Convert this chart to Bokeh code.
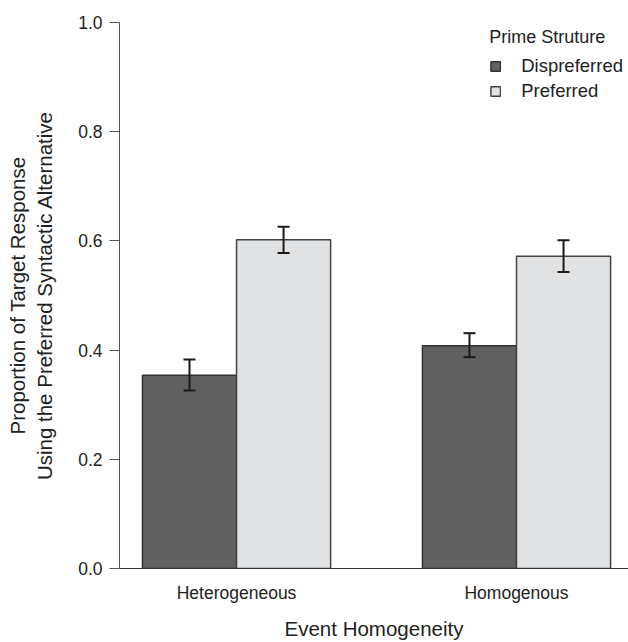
from bokeh.plotting import figure
from bokeh.models import Range1d, FixedTicker, ColumnDataSource, Whisker, TeeHead
from bokeh.embed import file_html
from bokeh.resources import INLINE

# ---- data ----
conditions = ["Heterogeneous", "Homogenous"]
series_names = ["Dispreferred", "Preferred"]
dispreferred = [0.354, 0.408]
dispreferred_lower = [0.326, 0.387]
dispreferred_upper = [0.383, 0.431]
preferred = [0.602, 0.572]
preferred_lower = [0.578, 0.543]
preferred_upper = [0.626, 0.601]
y_ticks = [0.0, 0.2, 0.4, 0.6, 0.8, 1.0]

FONT = "Liberation Sans"
TEXT = "#222222"
AXIS = "#555555"

centers = [1, 2]
bw = 0.336
off = bw / 2

p = figure(width=628, height=642, output_backend="svg", toolbar_location=None,
           x_range=Range1d(0.582, 2.4), y_range=Range1d(0, 1.0),
           min_border_left=119, min_border_right=0, min_border_top=22,
           min_border_bottom=73)
p.outline_line_color = None
p.grid.visible = False
p.background_fill_color = "white"

src_d = ColumnDataSource(dict(x=[c - off for c in centers], top=dispreferred,
                              lower=dispreferred_lower, upper=dispreferred_upper))
src_p = ColumnDataSource(dict(x=[c + off for c in centers], top=preferred,
                              lower=preferred_lower, upper=preferred_upper))

p.vbar(x="x", top="top", width=bw, bottom=0, source=src_d, fill_color="#616161",
       line_color="#333333", line_width=1.5, legend_label=series_names[0])
p.vbar(x="x", top="top", width=bw, bottom=0, source=src_p, fill_color="#e1e2e4",
       line_color="#444444", line_width=1.5, legend_label=series_names[1])

for src in (src_d, src_p):
    w = Whisker(source=src, base="x", upper="upper", lower="lower",
                line_color="#1a1a1a", line_width=2, level="overlay",
                upper_head=TeeHead(size=12, line_color="#1a1a1a", line_width=2),
                lower_head=TeeHead(size=12, line_color="#1a1a1a", line_width=2))
    p.add_layout(w)

# y axis
p.yaxis.ticker = FixedTicker(ticks=y_ticks)
p.yaxis.major_label_overrides = {t: f"{t:.1f}" for t in y_ticks}
p.yaxis.minor_tick_line_color = None
p.yaxis.major_tick_in = 0
p.yaxis.major_tick_out = 10
p.yaxis.major_tick_line_color = AXIS
p.yaxis.axis_line_color = AXIS
p.yaxis.major_label_text_font = FONT
p.yaxis.major_label_text_font_size = "17.5px"
p.yaxis.major_label_text_color = TEXT
p.yaxis.major_label_standoff = 7
p.yaxis.axis_label = "Proportion of Target Response\nUsing the Preferred Syntactic Alternative"
p.yaxis.axis_label_text_font = FONT
p.yaxis.axis_label_text_font_size = "20.5px"
p.yaxis.axis_label_text_font_style = "normal"
p.yaxis.axis_label_text_color = TEXT
p.yaxis.axis_label_standoff = 19

# x axis
p.xaxis.ticker = FixedTicker(ticks=centers)
p.xaxis.major_label_overrides = {c: n for c, n in zip(centers, conditions)}
p.xaxis.minor_tick_line_color = None
p.xaxis.major_tick_line_color = None
p.xaxis.major_tick_in = 0
p.xaxis.major_tick_out = 0
p.xaxis.axis_line_color = "#333333"
p.xaxis.major_label_text_font = FONT
p.xaxis.major_label_text_font_size = "17.5px"
p.xaxis.major_label_text_color = TEXT
p.xaxis.major_label_standoff = 14
p.xaxis.axis_label = "Event Homogeneity"
p.xaxis.axis_label_text_font = FONT
p.xaxis.axis_label_text_font_size = "20.5px"
p.xaxis.axis_label_text_font_style = "normal"
p.xaxis.axis_label_text_color = TEXT
p.xaxis.axis_label_standoff = 11

# legend
lg = p.legend[0]
lg.title = "Prime Struture"
lg.title_text_font = FONT
lg.title_text_font_size = "18px"
lg.title_text_font_style = "normal"
lg.title_text_color = TEXT
lg.title_standoff = 7
lg.label_text_font = FONT
lg.label_text_font_size = "18.5px"
lg.label_text_color = TEXT
lg.glyph_width = 12
lg.glyph_height = 12
lg.label_standoff = 20
lg.label_height = 20
lg.spacing = 3
lg.location = "top_right"
lg.margin = 5
lg.padding = 5
lg.border_line_color = None
lg.background_fill_alpha = 0

open("out.html", "w").write(file_html(p, INLINE))
